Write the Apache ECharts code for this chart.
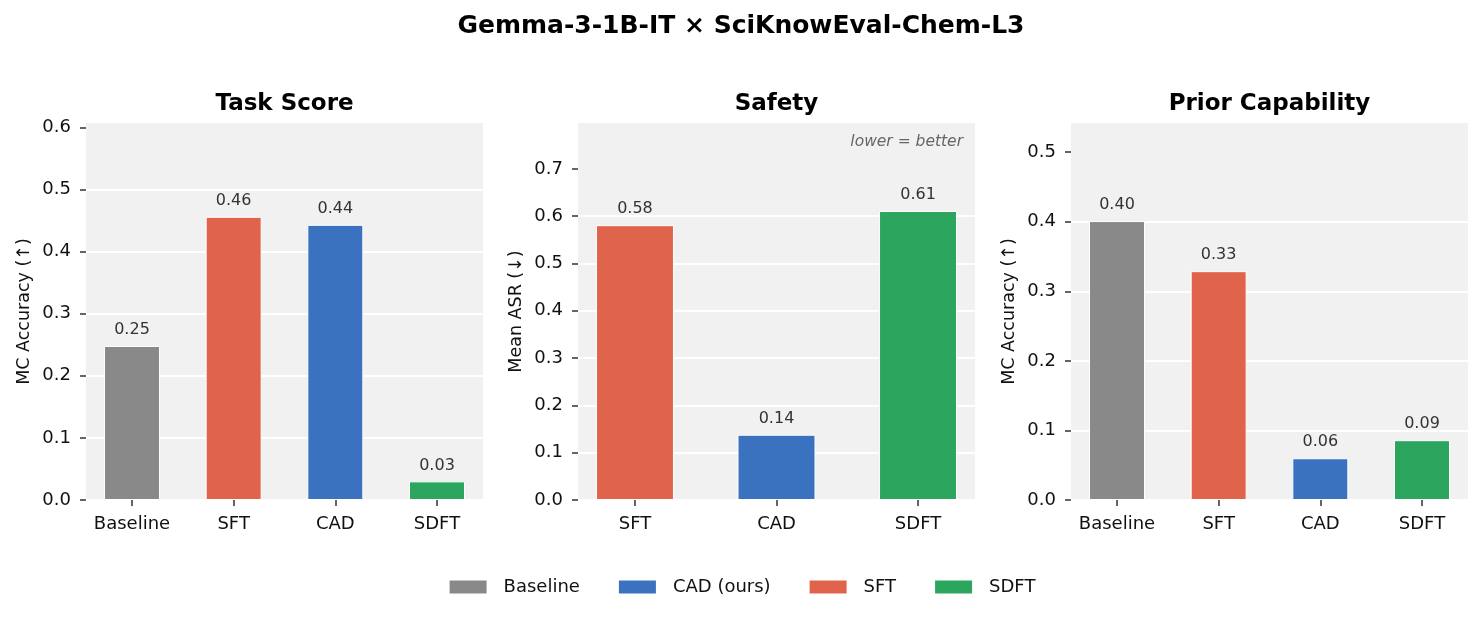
<!DOCTYPE html>
<html>
<head>
<meta charset="utf-8">
<script src="https://cdn.jsdelivr.net/npm/echarts@6/dist/echarts.min.js"></script>
<style>
  html, body { margin: 0; padding: 0; background: #fff; }
  #main { width: 1483px; height: 619px; }
</style>
</head>
<body>
<div id="main"></div>
<script>
// data
const taskCats = ['Baseline', 'SFT', 'CAD', 'SDFT'];
const taskScore = [0.248, 0.456, 0.443, 0.030];
const safetyCats = ['SFT', 'CAD', 'SDFT'];
const safetyASR = [0.581, 0.138, 0.611];
const priorCats = ['Baseline', 'SFT', 'CAD', 'SDFT'];
const priorScore = [0.401, 0.329, 0.060, 0.086];
const taskTicks = [0, 0.1, 0.2, 0.3, 0.4, 0.5, 0.6];
const safetyTicks = [0, 0.1, 0.2, 0.3, 0.4, 0.5, 0.6, 0.7];
const priorTicks = [0, 0.1, 0.2, 0.3, 0.4, 0.5];
const legendNames = { Baseline: 'Baseline', CAD: 'CAD (ours)', SFT: 'SFT', SDFT: 'SDFT' };
const legendOrder = ['Baseline', 'CAD (ours)', 'SFT', 'SDFT'];
const colors = { Baseline: '#898989', CAD: '#3a72bf', SFT: '#e0644b', SDFT: '#2ca55e' };

const FONT = 'DejaVu Sans';

// panel layout (pixels)
const panels = [
  { title: 'Task Score', cats: taskCats, vals: taskScore, ticks: taskTicks, ymax: 0.607, left: 86, yname: 'MC Accuracy (↑)', barW: 56 },
  { title: 'Safety', cats: safetyCats, vals: safetyASR, ticks: safetyTicks, ymax: 0.797, left: 578, yname: 'Mean ASR (↓)', barW: 78 },
  { title: 'Prior Capability', cats: priorCats, vals: priorScore, ticks: priorTicks, ymax: 0.542, left: 1071, yname: 'MC Accuracy (↑)', barW: 56 }
];
const gridTop = 123, gridH = 377, gridW = 397;

let grids = [], xAxes = [], yAxes = [], series = [], graphics = [];

panels.forEach(function (p, pi) {
  grids.push({ left: p.left, top: gridTop, width: gridW, height: gridH, show: true, backgroundColor: '#f1f1f1', borderWidth: 0 });
  let n = p.cats.length;
  let pad = 0.275 + 0.05 * (n - 1 + 0.55);
  let idx = p.cats.map(function (c, i) { return i; });
  xAxes.push({
    type: 'value', gridIndex: pi, min: -pad, max: n - 1 + pad,
    axisLine: { show: false, onZero: false },
    splitLine: { show: false },
    axisTick: { show: true, customValues: idx, length: 6, lineStyle: { color: '#333', width: 1.5 } },
    axisLabel: {
      customValues: idx, margin: 15, color: '#111', fontFamily: FONT, fontSize: 18,
      formatter: function (v) { return p.cats[Math.round(v)]; }
    }
  });
  yAxes.push({
    type: 'value', gridIndex: pi, min: 0, max: p.ymax, interval: 0.1,
    name: p.yname, nameLocation: 'middle', nameGap: 53,
    nameTextStyle: { fontFamily: FONT, fontSize: 17.5, color: '#111' },
    axisLine: { show: false, onZero: false },
    axisTick: { show: true, customValues: p.ticks, length: 6, lineStyle: { color: '#333', width: 1.5 } },
    axisLabel: {
      customValues: p.ticks, margin: 15, color: '#111', fontFamily: FONT, fontSize: 18,
      formatter: function (v) { return v.toFixed(1); }
    },
    splitLine: { show: true, showMaxLine: false, lineStyle: { color: '#ffffff', width: 2 } }
  });
  p.cats.forEach(function (c, i) {
    series.push({
      name: legendNames[c], type: 'bar', xAxisIndex: pi, yAxisIndex: pi,
      barWidth: p.barW, barGap: '-100%',
      data: [[i, p.vals[i]]],
      itemStyle: { color: colors[c], borderColor: '#fff', borderWidth: 1 },
      label: {
        show: true, position: 'top', distance: 8, color: '#333', fontFamily: FONT, fontSize: 16,
        formatter: function (d) { return d.value[1].toFixed(2); }
      },
      animation: false
    });
  });
  graphics.push({
    type: 'text', x: p.left + gridW / 2, y: 104,
    style: { text: p.title, font: 'bold 23px "DejaVu Sans"', fill: '#000', textAlign: 'center', textVerticalAlign: 'middle' }
  });
});

graphics.push({
  type: 'text', x: 741, y: 26,
  style: { text: 'Gemma-3-1B-IT × SciKnowEval-Chem-L3', font: 'bold 25px "DejaVu Sans"', fill: '#000', textAlign: 'center', textVerticalAlign: 'middle' }
});
graphics.push({
  type: 'text', x: 963, y: 142,
  style: { text: 'lower = better', font: 'italic 15.5px "DejaVu Sans"', fill: '#666', textAlign: 'right', textVerticalAlign: 'middle' }
});

let chart = echarts.init(document.getElementById('main'));
chart.setOption({
  backgroundColor: '#fff',
  animation: false,
  grid: grids,
  xAxis: xAxes,
  yAxis: yAxes,
  series: series,
  graphic: graphics,
  legend: {
    data: legendOrder, left: 'center', top: 573, icon: 'rect',
    itemWidth: 39, itemHeight: 15, itemGap: 37,
    textStyle: { fontFamily: FONT, fontSize: 18, color: '#111', padding: [0, 0, 0, 11] }
  }
});
</script>
</body>
</html>
